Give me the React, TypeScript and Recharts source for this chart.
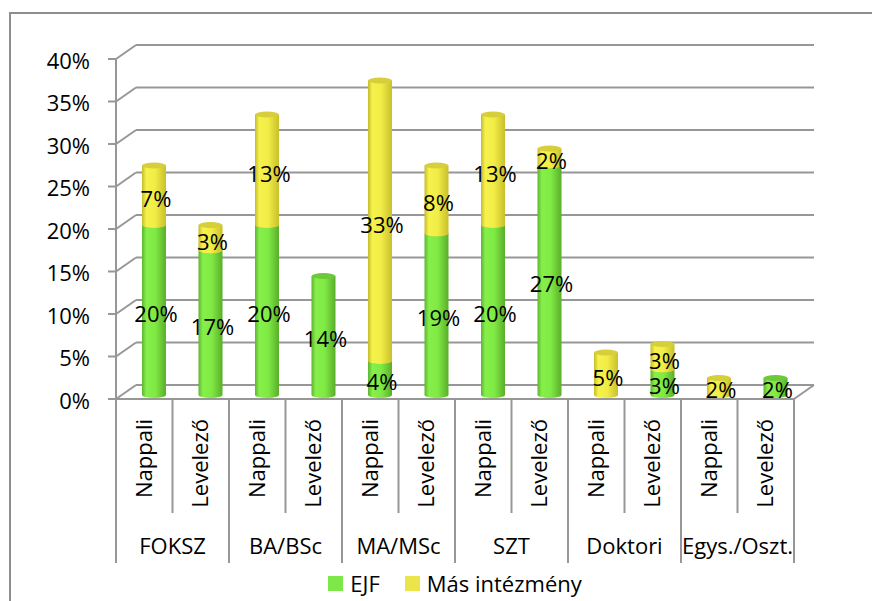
import { BarChart, Bar, XAxis, YAxis, CartesianGrid, Legend, LabelList } from 'recharts';

const groups = ['FOKSZ', 'BA/BSc', 'MA/MSc', 'SZT', 'Doktori', 'Egys./Oszt.'];
const modes = ['Nappali', 'Levelező'];
const ejf = [20, 17, 20, 14, 4, 19, 20, 27, 0, 3, 0, 2];
const mas = [7, 3, 13, 0, 33, 8, 13, 2, 5, 3, 2, 0];
const yTicks = [0, 5, 10, 15, 20, 25, 30, 35, 40];
const seriesNames = ['EJF', 'Más intézmény'];
const seriesColors = ['#7ee848', '#ece549'];

const data = ejf.map((v, i) => ({
  mode: modes[i % 2],
  group: groups[Math.floor(i / 2)],
  ejf: v,
  mas: mas[i],
}));

// layout
const W = 872;
const H = 601;
const LEFT = 116;
const RIGHT = 794;
const TOP = 59;
const X_AXIS_H = 164;
const BOTTOM_MARGIN = 38;
const BOTTOM = H - BOTTOM_MARGIN - X_AXIS_H;
const BAND = (RIGHT - LEFT) / data.length;
const DEPTH_X = 20; // back wall offset
const DEPTH_Y = 14;
const BAR_DX = 10; // cylinders sit a bit behind the front plane
const BAR_DY = 4;
const LINE = '#979797';
const FONT = '"Open Sans", sans-serif';
const FS = 22;

const makeCylinder = (cap: string) => (props: any) => {
  const { x, y, width, height, fill } = props;
  if (!height || height <= 0) return null;
  const left = x + BAR_DX;
  const top = y - BAR_DY;
  const bottom = y + height - BAR_DY;
  const rx = width / 2;
  const ry = 3;
  return (
    <g>
      <ellipse cx={left + rx} cy={bottom} rx={rx} ry={ry} fill={fill} />
      <rect x={left} y={top} width={width} height={height} fill={fill} />
      <ellipse cx={left + rx} cy={top} rx={rx} ry={ry} fill={cap} />
    </g>
  );
};

const renderLabel = (props: any) => {
  const vb = props.viewBox || props;
  const { x, y, width, height } = vb;
  if (!props.value) return null;
  return (
    <text
      x={x + width / 2 + BAR_DX + 2}
      y={y + height / 2}
      dy="0.36em"
      textAnchor="middle"
      fontFamily={FONT}
      fontSize={FS}
      fill="#000"
    >
      {props.value}%
    </text>
  );
};

const wallLine = (p: any) => {
  const { x1, x2, y1 } = p;
  const by = y1 - DEPTH_Y;
  return (
    <g key={p.key}>
      <line x1={x1} y1={y1} x2={x1 + DEPTH_X} y2={by} stroke={LINE} strokeWidth={2} />
      <line x1={x1 + DEPTH_X} y1={by} x2={x2 + DEPTH_X} y2={by} stroke={LINE} strokeWidth={2} />
      {Math.abs(y1 - BOTTOM) < 2 && (
        <line x1={x2} y1={y1} x2={x2 + DEPTH_X} y2={by} stroke={LINE} strokeWidth={2} />
      )}
    </g>
  );
};

const CategoryTick = (props: any) => {
  const { x, y, payload } = props;
  const i = payload.index ?? props.index;
  const half = BAND / 2;
  const first = i % 2 === 0;
  return (
    <g>
      <line x1={x - half} y1={y} x2={x - half} y2={y + (first ? 164 : 114)} stroke={LINE} strokeWidth={2} />
      {i === data.length - 1 && (
        <line x1={x + half} y1={y} x2={x + half} y2={y + 164} stroke={LINE} strokeWidth={2} />
      )}
      <text
        transform={`translate(${x + 7.5},${y + 20}) rotate(-90)`}
        textAnchor="end"
        fontFamily={FONT}
        fontSize={FS}
        fill="#000"
      >
        {data[i].mode}
      </text>
      {first && (
        <text x={x + half} y={y + 155} textAnchor="middle" fontFamily={FONT} fontSize={FS} fill="#000">
          {data[i].group}
        </text>
      )}
    </g>
  );
};

const LegendContent = () => (
  <div style={{ display: 'flex', justifyContent: 'center', fontFamily: FONT, fontSize: FS, color: '#000' }}>
    {seriesNames.map((n, i) => (
      <div key={n} style={{ display: 'flex', alignItems: 'center', marginRight: i === 0 ? 25 : 0 }}>
        <span style={{ width: 15, height: 15, background: seriesColors[i], marginRight: 7, display: 'inline-block' }} />
        <span style={{ lineHeight: '26px' }}>{n}</span>
      </div>
    ))}
  </div>
);

export default function App() {
  return (
    <div style={{ position: 'absolute', left: 0, top: 0, width: W, height: H, overflow: 'hidden', background: '#fff' }}>
      <div
        style={{
          position: 'absolute',
          left: 9,
          top: 12,
          width: W,
          height: H,
          border: '2px solid #8e8e8e',
          boxSizing: 'border-box',
        }}
      />
      <BarChart
        width={W}
        height={H}
        data={data}
        margin={{ top: TOP, right: W - RIGHT, bottom: BOTTOM_MARGIN, left: 10 }}
        style={{ position: 'absolute', left: 0, top: 0 }}
      >
        <defs>
          <linearGradient id="gEjf" x1="0" y1="0" x2="1" y2="0">
            <stop offset="0%" stopColor="#5db52e" />
            <stop offset="18%" stopColor="#86ef4b" />
            <stop offset="55%" stopColor="#80ea44" />
            <stop offset="100%" stopColor="#5aae2a" />
          </linearGradient>
          <linearGradient id="gMas" x1="0" y1="0" x2="1" y2="0">
            <stop offset="0%" stopColor="#c4bc2c" />
            <stop offset="18%" stopColor="#f6f24c" />
            <stop offset="55%" stopColor="#f1ec46" />
            <stop offset="100%" stopColor="#c9c02c" />
          </linearGradient>
        </defs>
        <CartesianGrid vertical={false} horizontal={wallLine} />
        <XAxis
          dataKey="mode"
          interval={0}
          height={X_AXIS_H}
          tickSize={0}
          tickMargin={0}
          tickLine={false}
          axisLine={{ stroke: LINE, strokeWidth: 2 }}
          tick={<CategoryTick />}
        />
        <YAxis
          width={LEFT - 10}
          domain={[0, 40]}
          ticks={yTicks}
          tickFormatter={(v) => `${v}%`}
          tickSize={8}
          tickMargin={18}
          axisLine={{ stroke: LINE, strokeWidth: 2 }}
          tickLine={{ stroke: LINE, strokeWidth: 2 }}
          tick={{ fill: '#000', fontFamily: FONT, fontSize: FS, dy: 2 }}
        />
        <Legend
          verticalAlign="middle"
          align="center"
          layout="horizontal"
          content={<LegendContent />}
          wrapperStyle={{ top: 570, left: LEFT, width: RIGHT - LEFT }}
        />
        <Bar
          dataKey="ejf"
          name={seriesNames[0]}
          stackId="a"
          barSize={24}
          fill="url(#gEjf)"
          shape={makeCylinder('#6cc93a')}
          isAnimationActive={false}
        >
          <LabelList dataKey="ejf" content={renderLabel} />
        </Bar>
        <Bar
          dataKey="mas"
          name={seriesNames[1]}
          stackId="a"
          barSize={24}
          fill="url(#gMas)"
          shape={makeCylinder('#d6ce3a')}
          isAnimationActive={false}
        >
          <LabelList dataKey="mas" content={renderLabel} />
        </Bar>
      </BarChart>
    </div>
  );
}
